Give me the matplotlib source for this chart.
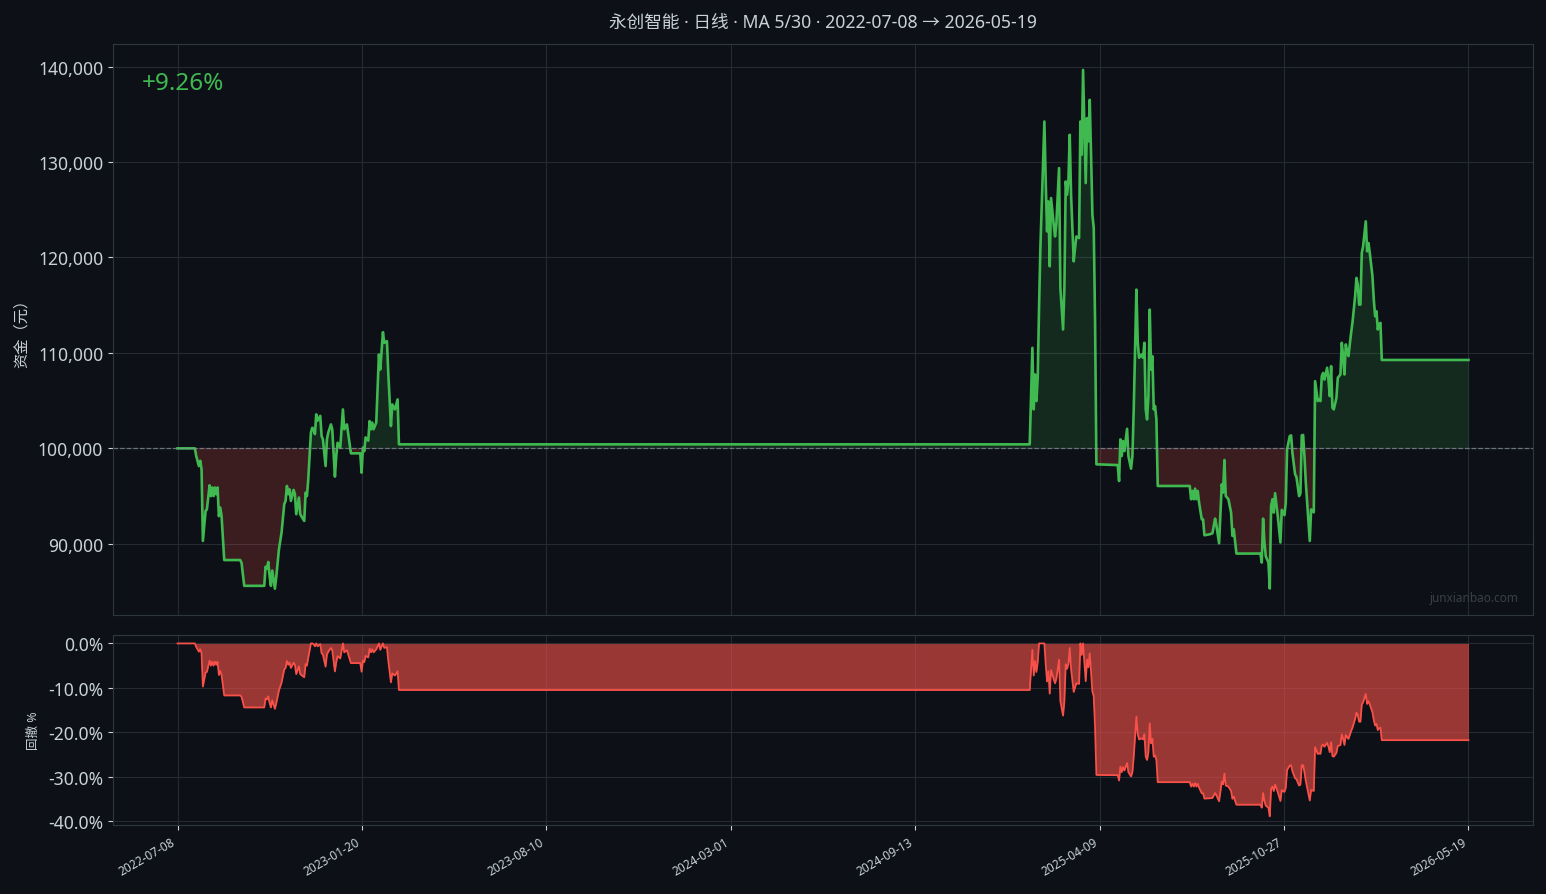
import numpy as np
import matplotlib
matplotlib.use("Agg")
import matplotlib.pyplot as plt
from matplotlib.ticker import MultipleLocator, FuncFormatter

plt.rcParams['font.family'] = ['Noto Sans', 'Noto Sans CJK SC', 'DejaVu Sans']
plt.rcParams['axes.unicode_minus'] = False

# --- data (trading-day index, account value) ---
n_days = 969
tick_dates = ['2022-07-08', '2023-01-20', '2023-08-10', '2024-03-01',
              '2024-09-13', '2025-04-09', '2025-10-27', '2026-05-19']
base_cash = 100000

day_idx = [0, 13, 14, 16, 17, 18, 19, 21, 22, 24, 25, 26, 27, 28, 29, 30, 31, 32, 33, 35,
           47, 48, 50, 65, 66, 67, 68, 69, 70, 71, 73, 74, 76, 78, 80, 81, 82, 83, 84, 85,
           87, 88, 89, 91, 92, 93, 95, 96, 97, 98, 100, 101, 102, 103, 104, 105, 107, 108, 109, 111,
           112, 113, 115, 116, 118, 119, 120, 122, 124, 125, 127, 128, 130, 137, 138, 139, 140, 141, 143, 144,
           145, 146, 147, 149, 151, 152, 154, 155, 157, 158, 160, 161, 163, 165, 166,
           639, 641, 642, 643, 644, 645, 646, 647, 648, 650, 651, 652, 653, 654, 655, 657, 658, 659, 661,
           662, 664, 665, 666, 667, 668, 669, 670, 672, 673, 674, 676, 677, 678, 679, 680, 681, 682, 683,
           684, 685, 686, 687, 688, 689,
           705, 706, 707, 708, 709, 710, 712, 713, 715, 716, 717, 719, 720, 721, 723, 724, 725, 726, 727,
           728, 729, 730, 731, 732, 733, 734, 735,
           759, 760, 761, 762, 763, 764, 765, 766, 768, 769, 770, 774, 776, 778, 779, 781, 783, 784, 785,
           786, 788, 790, 791, 792, 793, 794, 812, 813, 814, 815, 816, 818, 819, 820, 821, 822, 823, 825,
           827, 828, 830, 831, 832, 834, 835, 836, 838, 839, 841, 842, 843, 844, 845, 846, 849, 850, 852,
           853, 855, 856, 857, 858, 859, 860, 862, 863, 864, 865, 866, 867, 869, 870, 872, 873, 874, 875,
           876, 877, 878, 880, 881, 883, 884, 885, 886, 887, 888, 889, 891, 892, 893, 894, 896, 897, 898,
           899, 900, 901, 902, 903, 968]

equity = [100000, 100000, 99200, 98150, 98700, 97800, 90300, 93450, 93600, 96130, 95000, 95900, 95000, 95900, 95200, 95900, 92900, 93800, 92900, 88300,
          88300, 88000, 85600, 85600, 87600, 87400, 88100, 86650, 85600, 87200, 85300, 86500, 89400, 91200, 94150, 94500, 96060, 95200, 95700, 94490,
          95650, 95200, 93100, 94850, 93100, 92850, 92400, 95360, 95000, 96760, 101640, 102160, 102000, 101500, 103560, 102900, 103400, 101290, 100940, 98150,
          100940, 101640, 102510, 102000, 97040, 99200, 100590, 100070, 104080, 102000, 102510, 101500, 99480, 99480, 97450, 100070, 99700, 101150, 100800, 102860,
          102000, 102700, 102000, 102700, 109830, 108260, 112170, 111050, 111230, 107920, 102340, 104600, 104080, 105130, 100420,
          100420, 110530, 104080, 107740, 104950, 107390, 114720, 121000, 125520, 134240, 127960, 122730, 125870, 119070, 126220, 123430, 122200, 123600, 129360,
          116810, 112450, 116810, 127960, 126570, 127960, 132850, 126570, 119590, 121000, 122200, 122030, 134240, 130750, 139640, 133890, 127790, 134590, 132150,
          136510, 130750, 124480, 123080, 113320, 98330,
          98250, 96580, 100940, 99200, 100760, 99720, 102050, 99200, 97870, 99200, 104080, 116630, 111060, 109490, 109840, 109490, 111060, 104080, 103030,
          105470, 114540, 108260, 109660, 104080, 104430, 103030, 96060,
          96060, 94670, 95540, 94670, 95780, 94670, 95540, 94320, 92570, 92570, 90900, 91000, 91100, 92640, 91900, 90060, 96230, 95370, 98780,
          95010, 94670, 93270, 90830, 91530, 90300, 88980, 88980, 88040, 92640, 90140, 88700, 88040, 85320, 93970, 94670, 93270, 95300, 92920,
          90140, 93550, 93000, 94320, 99900, 101290, 101360, 99500, 97280, 97000, 95000, 95300, 101360, 101400, 99200, 96500, 90300, 93600, 93300,
          107040, 104950, 105100, 104950, 107560, 107900, 107200, 108440, 107200, 105470, 108610, 104260, 104080, 105300, 107390, 107740, 111060, 109660, 107740,
          110890, 110200, 109660, 112100, 113150, 115930, 117860, 117160, 115060, 115060, 120470, 121160, 123780, 120640, 121510, 120470, 118030, 115590, 113840,
          114360, 112450, 113000, 113150, 109260, 109260]

title = '永创智能 · 日线 · MA 5/30 · 2022-07-08 → 2026-05-19'

bg = '#0d1117'
grid_c = '#262b33'
text_c = '#c9d1d9'
green = '#3fb950'
red = '#f85149'

x = np.array(day_idx)
eq = np.array(equity, dtype=float)
peak = np.maximum.accumulate(eq)
dd = (eq / peak - 1) * 100
ret = (eq[-1] / base_cash - 1) * 100

fig, (ax, ax2) = plt.subplots(2, 1, figsize=(15.46, 8.95), dpi=100, sharex=True,
                              gridspec_kw={'height_ratios': [3, 1]})
fig.patch.set_facecolor(bg)
fig.subplots_adjust(left=0.0731, right=0.9916, top=0.9497, bottom=0.0771, hspace=0.053)

for a in (ax, ax2):
    a.set_facecolor(bg)
    a.grid(True, color=grid_c, linewidth=0.8)
    a.set_axisbelow(True)
    for s in a.spines.values():
        s.set_color('#30363d')
    a.tick_params(colors=text_c, labelsize=12.6)

ax.fill_between(x, eq, base_cash, where=eq >= base_cash, interpolate=True,
                color=green, alpha=0.15, linewidth=0)
ax.fill_between(x, eq, base_cash, where=eq < base_cash, interpolate=True,
                color=red, alpha=0.2, linewidth=0)
ax.plot(x, eq, color=green, linewidth=1.9)
ax.axhline(base_cash, color='#8b949e', linestyle='--', linewidth=0.9, alpha=0.7)
ax.yaxis.set_major_locator(MultipleLocator(10000))
ax.yaxis.set_major_formatter(FuncFormatter(lambda v, p: f'{v:,.0f}'))
ax.set_ylabel('资金（元）', color=text_c, fontsize=11, labelpad=6)
ax.set_title(title, color=text_c, fontsize=12.7, pad=12)
ax.text(0.02, 0.953, f'{ret:+.2f}%', transform=ax.transAxes, color=green,
        fontsize=17.5, ha='left', va='top')
ax.text(0.99, 0.018, 'junxianbao.com', transform=ax.transAxes, color='#3a3f47',
        fontsize=8.5, ha='right', va='bottom')
ax.tick_params(axis='x', length=0)

ax2.fill_between(x, dd, 0, color=red, alpha=0.6, linewidth=0)
ax2.plot(x, dd, color=red, linewidth=1.3)
ax2.yaxis.set_major_locator(MultipleLocator(10))
ax2.yaxis.set_major_formatter(FuncFormatter(lambda v, p: f'{v:.1f}%'))
ax2.set_ylabel('回撤 %', color=text_c, fontsize=9, labelpad=6)

ticks = np.linspace(0, n_days - 1, len(tick_dates))
ax2.set_xticks(ticks)
ax2.set_xticklabels(tick_dates, rotation=30, ha='right', fontsize=8.5)
ax2.set_xlim(-0.05 * (n_days - 1), 1.05 * (n_days - 1))

fig.savefig('out.png', dpi=100, facecolor=bg)
